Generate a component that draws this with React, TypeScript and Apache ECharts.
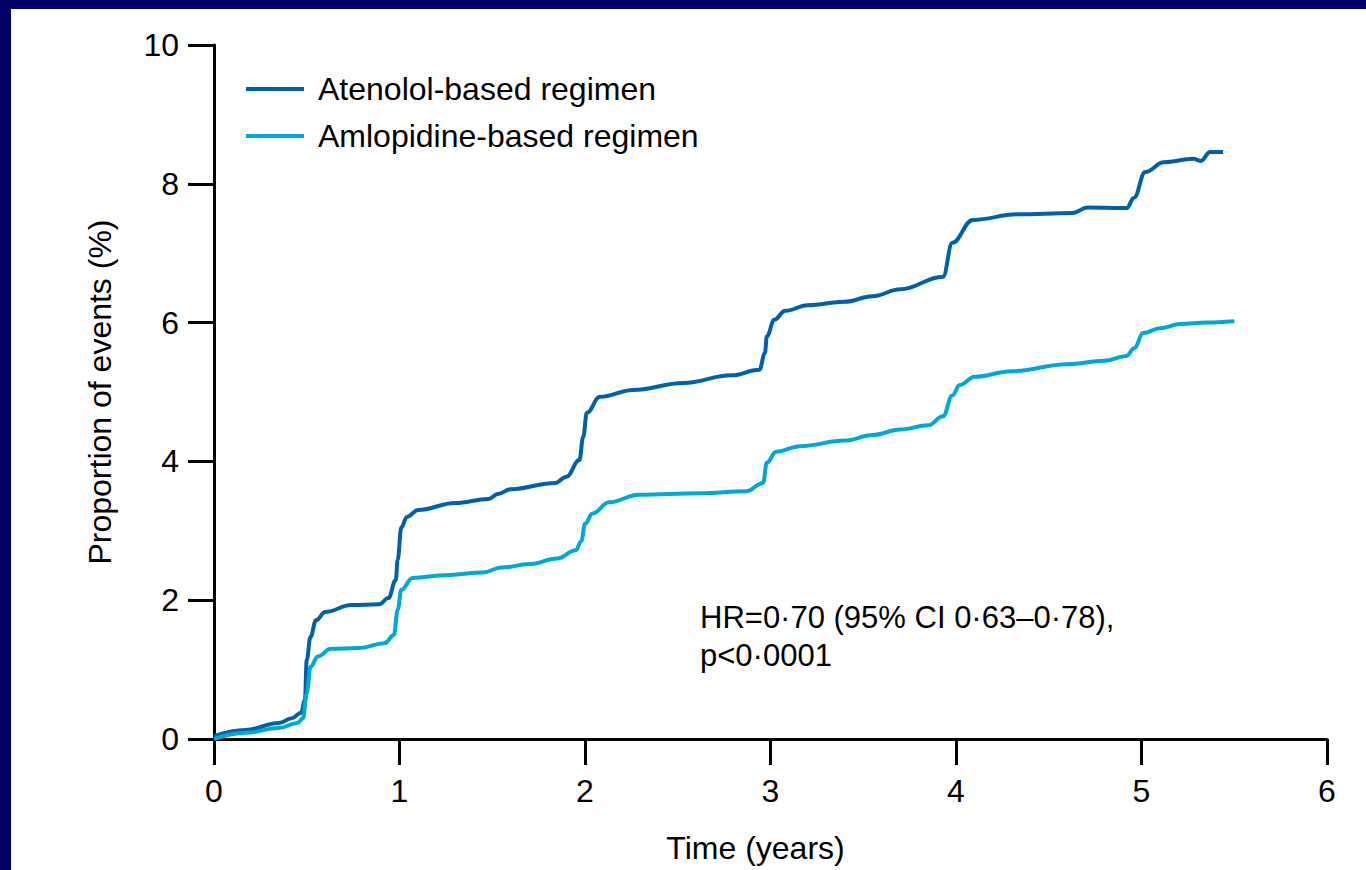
import React, { useEffect, useRef } from "react";
import * as echarts from "echarts";

const seriesNames = ["Atenolol-based regimen", "Amlopidine-based regimen"];
const seriesColors = ["#0060A8", "#00A8D6"];

const atenololTime = [0, 0.17, 0.35, 0.42, 0.47, 0.49, 0.5, 0.52, 0.55, 0.6, 0.74, 0.89, 0.94, 0.98, 0.99, 1.01, 1.04, 1.1, 1.3, 1.48, 1.53, 1.6, 1.84, 1.9, 1.97, 1.99, 2.01, 2.08, 2.26, 2.53, 2.79, 2.94, 2.97, 2.98, 3.02, 3.08, 3.2, 3.4, 3.55, 3.7, 3.93, 3.98, 4.09, 4.33, 4.63, 4.71, 4.92, 4.96, 5.02, 5.12, 5.28, 5.32, 5.37, 5.44];
const atenololValue = [0.04, 0.13, 0.23, 0.3, 0.38, 0.56, 1.14, 1.47, 1.71, 1.83, 1.93, 1.94, 2.03, 2.29, 2.58, 3.05, 3.2, 3.3, 3.4, 3.46, 3.53, 3.6, 3.69, 3.78, 4.02, 4.35, 4.7, 4.93, 5.03, 5.13, 5.24, 5.32, 5.56, 5.8, 6.04, 6.17, 6.25, 6.3, 6.38, 6.48, 6.66, 7.15, 7.48, 7.56, 7.58, 7.66, 7.65, 7.8, 8.17, 8.31, 8.36, 8.33, 8.46, 8.46];

const amlopidineTime = [0, 0.17, 0.35, 0.45, 0.48, 0.5, 0.52, 0.56, 0.63, 0.78, 0.92, 0.97, 0.99, 1.01, 1.07, 1.25, 1.45, 1.55, 1.7, 1.85, 1.95, 1.98, 2.0, 2.04, 2.13, 2.29, 2.62, 2.87, 2.96, 2.98, 3.03, 3.16, 3.4, 3.55, 3.7, 3.85, 3.93, 3.98, 4.02, 4.1, 4.3, 4.6, 4.8, 4.92, 4.96, 5.01, 5.1, 5.21, 5.35, 5.5];
const amlopidineValue = [0, 0.09, 0.16, 0.23, 0.3, 0.66, 1.04, 1.19, 1.3, 1.31, 1.38, 1.5, 1.86, 2.15, 2.32, 2.36, 2.4, 2.47, 2.52, 2.6, 2.72, 2.85, 3.1, 3.25, 3.41, 3.52, 3.54, 3.57, 3.69, 3.98, 4.14, 4.22, 4.3, 4.38, 4.46, 4.52, 4.65, 4.95, 5.1, 5.22, 5.3, 5.4, 5.45, 5.52, 5.63, 5.85, 5.92, 5.98, 6.0, 6.02];

const xTicks = [0, 1, 2, 3, 4, 5, 6];
const yTicks = [0, 2, 4, 6, 8, 10];
const xTitle = "Time (years)";
const yTitle = "Proportion of events (%)";
const noteLines = ["HR=0·70 (95% CI 0·63–0·78),", "p<0·0001"];

const FONT = "'Liberation Sans', Arial, sans-serif";

function pairs(t: number[], v: number[]) {
  return t.map((x, i) => [x, v[i]]);
}

export default function App() {
  const ref = useRef<HTMLDivElement>(null);
  useEffect(() => {
    if (!ref.current) return;
    const chart = echarts.init(ref.current, null, { renderer: "svg" });
    const axisLine = { show: true, lineStyle: { color: "#000", width: 3 } };
    const label = { color: "#000", fontSize: 32, fontFamily: FONT };
    chart.setOption({
      animation: false,
      backgroundColor: "#fff",
      grid: { left: 214, right: 39, top: 45, bottom: 131, containLabel: false },
      legend: {
        orient: "vertical",
        left: 241,
        top: 68,
        itemWidth: 58,
        itemHeight: 4,
        itemGap: 15,
        icon: "rect",
        textStyle: { color: "#000", fontSize: 32, fontFamily: FONT, lineHeight: 32, padding: [0, 0, 0, 9] },
        data: seriesNames,
      },
      xAxis: {
        type: "value",
        min: xTicks[0],
        max: xTicks[xTicks.length - 1],
        interval: 1,
        axisLine,
        axisTick: { show: true, inside: false, length: 26, lineStyle: { color: "#000", width: 3 } },
        axisLabel: { ...label, margin: 36 },
        splitLine: { show: false },
        name: xTitle,
        nameLocation: "middle",
        nameGap: 93,
        nameTextStyle: { ...label, padding: [0, 30, 0, 0] },
      },
      yAxis: {
        type: "value",
        min: yTicks[0],
        max: yTicks[yTicks.length - 1],
        interval: 2,
        axisLine,
        axisTick: { show: true, inside: false, length: 26, lineStyle: { color: "#000", width: 3 } },
        axisLabel: { ...label, margin: 35 },
        splitLine: { show: false },
        name: yTitle,
        nameLocation: "middle",
        nameRotate: 90,
        nameGap: 98,
        nameTextStyle: { ...label },
      },
      series: [
        {
          name: seriesNames[0],
          type: "line",
          data: pairs(atenololTime, atenololValue),
          showSymbol: false,
          smooth: 0.4,
          smoothMonotone: "x",
          lineStyle: { color: seriesColors[0], width: 4 },
          itemStyle: { color: seriesColors[0] },
        },
        {
          name: seriesNames[1],
          type: "line",
          data: pairs(amlopidineTime, amlopidineValue),
          showSymbol: false,
          smooth: 0.4,
          smoothMonotone: "x",
          lineStyle: { color: seriesColors[1], width: 4 },
          itemStyle: { color: seriesColors[1] },
        },
      ],
      graphic: [
        { type: "rect", left: 0, top: 0, shape: { width: 1366, height: 9 }, style: { fill: "#000066" }, silent: true },
        { type: "rect", left: 0, top: 0, shape: { width: 11, height: 870 }, style: { fill: "#000066" }, silent: true },
        {
          type: "text",
          x: 700,
          y: 617,
          style: { text: noteLines[0], fill: "#000", fontSize: 31, fontFamily: FONT, verticalAlign: "middle" },
        },
        {
          type: "text",
          x: 700,
          y: 655,
          style: { text: noteLines[1], fill: "#000", fontSize: 31, fontFamily: FONT, verticalAlign: "middle" },
        },
      ],
    });
    return () => chart.dispose();
  }, []);
  return (
    <div
      ref={ref}
      style={{ position: "absolute", left: 0, top: 0, width: 1366, height: 870 }}
    />
  );
}
